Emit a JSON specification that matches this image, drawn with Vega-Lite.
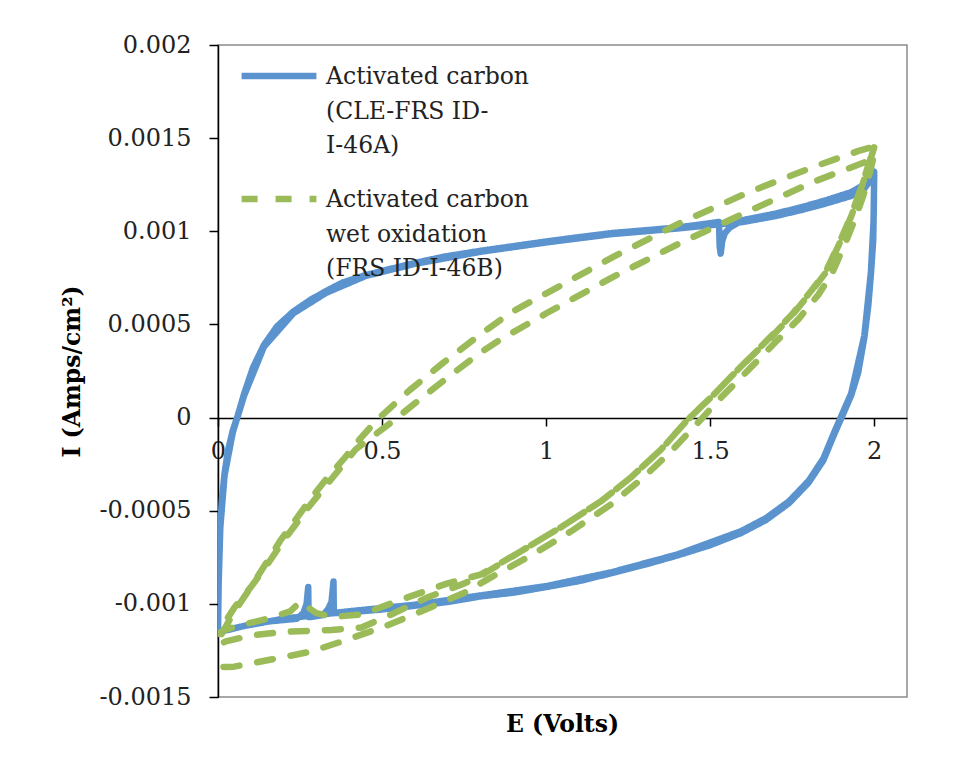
{
  "$schema": "https://vega.github.io/schema/vega-lite/v6.json",
  "width": 689,
  "height": 652,
  "autosize": {"type": "none"},
  "padding": {"left": 218, "top": 45, "right": 58, "bottom": 76},
  "background": "white",
  "config": {
    "view": {"stroke": "#8c8c8c", "strokeWidth": 1.5},
    "font": "DejaVu Serif",
    "style": {"guide-label": {"lineHeight": 34.5}}
  },
  "title": {"text": "E (Volts)", "orient": "bottom", "anchor": "middle", "fontSize": 23.5, "fontWeight": "bold", "font": "DejaVu Serif", "color": "black", "offset": 4},
  "data": {"values": [
    {"s":"A","k":1,"E":0,"I":-0.00115},
    {"s":"A","k":2,"E":0.001,"I":-0.001},
    {"s":"A","k":3,"E":0.002,"I":-0.00088},
    {"s":"A","k":4,"E":0.004,"I":-0.00072},
    {"s":"A","k":5,"E":0.007,"I":-0.00058},
    {"s":"A","k":6,"E":0.012,"I":-0.00044},
    {"s":"A","k":7,"E":0.02,"I":-0.0003},
    {"s":"A","k":8,"E":0.03,"I":-0.00018},
    {"s":"A","k":9,"E":0.045,"I":-0.00007},
    {"s":"A","k":10,"E":0.06,"I":0.00001},
    {"s":"A","k":11,"E":0.08,"I":0.00013},
    {"s":"A","k":12,"E":0.107,"I":0.00027},
    {"s":"A","k":13,"E":0.14,"I":0.00039},
    {"s":"A","k":14,"E":0.18,"I":0.00049},
    {"s":"A","k":15,"E":0.23,"I":0.00057},
    {"s":"A","k":16,"E":0.28,"I":0.00063},
    {"s":"A","k":17,"E":0.33,"I":0.00068},
    {"s":"A","k":18,"E":0.38,"I":0.000725},
    {"s":"A","k":19,"E":0.45,"I":0.000765},
    {"s":"A","k":20,"E":0.53,"I":0.0008},
    {"s":"A","k":21,"E":0.6,"I":0.00083},
    {"s":"A","k":22,"E":0.69,"I":0.000864},
    {"s":"A","k":23,"E":0.8,"I":0.000895},
    {"s":"A","k":24,"E":0.9,"I":0.00092},
    {"s":"A","k":25,"E":1.0,"I":0.000945},
    {"s":"A","k":26,"E":1.1,"I":0.000968},
    {"s":"A","k":27,"E":1.2,"I":0.00099},
    {"s":"A","k":28,"E":1.3,"I":0.001005},
    {"s":"A","k":29,"E":1.4,"I":0.00102},
    {"s":"A","k":30,"E":1.47,"I":0.001036},
    {"s":"A","k":31,"E":1.527,"I":0.00105},
    {"s":"A","k":32,"E":1.529,"I":0.00092},
    {"s":"A","k":33,"E":1.532,"I":0.00088},
    {"s":"A","k":34,"E":1.537,"I":0.00095},
    {"s":"A","k":35,"E":1.545,"I":0.00099},
    {"s":"A","k":36,"E":1.56,"I":0.00102},
    {"s":"A","k":37,"E":1.6,"I":0.00106},
    {"s":"A","k":38,"E":1.7,"I":0.001095},
    {"s":"A","k":39,"E":1.78,"I":0.00113},
    {"s":"A","k":40,"E":1.85,"I":0.001165},
    {"s":"A","k":41,"E":1.93,"I":0.00121},
    {"s":"A","k":42,"E":1.97,"I":0.00125},
    {"s":"A","k":43,"E":2.0,"I":0.00132},
    {"s":"A","k":44,"E":1.999,"I":0.00115},
    {"s":"A","k":45,"E":1.997,"I":0.00095},
    {"s":"A","k":46,"E":1.99,"I":0.00077},
    {"s":"A","k":47,"E":1.982,"I":0.0006},
    {"s":"A","k":48,"E":1.97,"I":0.00043},
    {"s":"A","k":49,"E":1.951,"I":0.00024},
    {"s":"A","k":50,"E":1.93,"I":0.00012},
    {"s":"A","k":51,"E":1.908,"I":0.00003},
    {"s":"A","k":52,"E":1.878,"I":-0.00009},
    {"s":"A","k":53,"E":1.845,"I":-0.00023},
    {"s":"A","k":54,"E":1.8,"I":-0.00035},
    {"s":"A","k":55,"E":1.74,"I":-0.00046},
    {"s":"A","k":56,"E":1.67,"I":-0.00055},
    {"s":"A","k":57,"E":1.594,"I":-0.00062},
    {"s":"A","k":58,"E":1.5,"I":-0.000685},
    {"s":"A","k":59,"E":1.4,"I":-0.00074},
    {"s":"A","k":60,"E":1.3,"I":-0.00079},
    {"s":"A","k":61,"E":1.2,"I":-0.000835},
    {"s":"A","k":62,"E":1.1,"I":-0.000878},
    {"s":"A","k":63,"E":1.0,"I":-0.00091},
    {"s":"A","k":64,"E":0.9,"I":-0.00094},
    {"s":"A","k":65,"E":0.8,"I":-0.00096},
    {"s":"A","k":66,"E":0.7,"I":-0.00099},
    {"s":"A","k":67,"E":0.6,"I":-0.00101},
    {"s":"A","k":68,"E":0.5,"I":-0.00103},
    {"s":"A","k":69,"E":0.4,"I":-0.001045},
    {"s":"A","k":70,"E":0.353,"I":-0.00105},
    {"s":"A","k":71,"E":0.352,"I":-0.00088},
    {"s":"A","k":72,"E":0.346,"I":-0.00099},
    {"s":"A","k":73,"E":0.335,"I":-0.00103},
    {"s":"A","k":74,"E":0.32,"I":-0.00106},
    {"s":"A","k":75,"E":0.285,"I":-0.00107},
    {"s":"A","k":76,"E":0.276,"I":-0.00107},
    {"s":"A","k":77,"E":0.275,"I":-0.00091},
    {"s":"A","k":78,"E":0.27,"I":-0.001},
    {"s":"A","k":79,"E":0.26,"I":-0.00105},
    {"s":"A","k":80,"E":0.24,"I":-0.00108},
    {"s":"A","k":81,"E":0.18,"I":-0.00109},
    {"s":"A","k":82,"E":0.12,"I":-0.0011},
    {"s":"A","k":83,"E":0.076,"I":-0.00112},
    {"s":"A","k":84,"E":0.03,"I":-0.00114},
    {"s":"A","k":85,"E":0,"I":-0.00115},
    {"s":"A","k":86,"E":0.002,"I":-0.00089},
    {"s":"A","k":87,"E":0.007,"I":-0.00059},
    {"s":"A","k":88,"E":0.02,"I":-0.00031},
    {"s":"A","k":89,"E":0.045,"I":-0.00008},
    {"s":"A","k":90,"E":0.08,"I":0.00012},
    {"s":"A","k":91,"E":0.14,"I":0.00038},
    {"s":"A","k":92,"E":0.23,"I":0.00056},
    {"s":"A","k":93,"E":0.33,"I":0.00067},
    {"s":"A","k":94,"E":0.45,"I":0.00076},
    {"s":"A","k":95,"E":0.6,"I":0.000825},
    {"s":"A","k":96,"E":0.8,"I":0.00089},
    {"s":"A","k":97,"E":1.0,"I":0.00094},
    {"s":"A","k":98,"E":1.2,"I":0.000985},
    {"s":"A","k":99,"E":1.4,"I":0.001015},
    {"s":"A","k":100,"E":1.6,"I":0.00105},
    {"s":"A","k":101,"E":1.7,"I":0.001082},
    {"s":"A","k":102,"E":1.78,"I":0.001115},
    {"s":"A","k":103,"E":1.85,"I":0.001148},
    {"s":"A","k":104,"E":1.93,"I":0.00119},
    {"s":"A","k":105,"E":1.97,"I":0.00123},
    {"s":"A","k":106,"E":2.0,"I":0.0013},
    {"s":"A","k":107,"E":1.998,"I":0.00105},
    {"s":"A","k":108,"E":1.99,"I":0.00078},
    {"s":"A","k":109,"E":1.97,"I":0.00044},
    {"s":"A","k":110,"E":1.93,"I":0.00013},
    {"s":"A","k":111,"E":1.878,"I":-0.00008},
    {"s":"A","k":112,"E":1.845,"I":-0.00022},
    {"s":"A","k":113,"E":1.8,"I":-0.00034},
    {"s":"A","k":114,"E":1.74,"I":-0.00045},
    {"s":"A","k":115,"E":1.67,"I":-0.00054},
    {"s":"A","k":116,"E":1.594,"I":-0.00061},
    {"s":"A","k":117,"E":1.4,"I":-0.000735},
    {"s":"A","k":118,"E":1.2,"I":-0.00083},
    {"s":"A","k":119,"E":1.0,"I":-0.000905},
    {"s":"A","k":120,"E":0.8,"I":-0.000955},
    {"s":"A","k":121,"E":0.6,"I":-0.001005},
    {"s":"A","k":122,"E":0.4,"I":-0.00104},
    {"s":"A","k":123,"E":0.2,"I":-0.00108},
    {"s":"A","k":124,"E":0.076,"I":-0.00112},
    {"s":"A","k":125,"E":0,"I":-0.00115},

    {"s":"B","k":1,"E":2.0,"I":0.00145},
    {"s":"B","k":2,"E":1.966,"I":0.00126},
    {"s":"B","k":3,"E":1.93,"I":0.00108},
    {"s":"B","k":4,"E":1.893,"I":0.00093},
    {"s":"B","k":5,"E":1.853,"I":0.00078},
    {"s":"B","k":6,"E":1.81,"I":0.00068},
    {"s":"B","k":7,"E":1.75,"I":0.00055},
    {"s":"B","k":8,"E":1.685,"I":0.00043},
    {"s":"B","k":9,"E":1.594,"I":0.000274},
    {"s":"B","k":10,"E":1.511,"I":0.000123},
    {"s":"B","k":11,"E":1.432,"I":-0.00001},
    {"s":"B","k":12,"E":1.35,"I":-0.000172},
    {"s":"B","k":13,"E":1.258,"I":-0.000322},
    {"s":"B","k":14,"E":1.166,"I":-0.000451},
    {"s":"B","k":15,"E":1.044,"I":-0.00059},
    {"s":"B","k":16,"E":0.922,"I":-0.000719},
    {"s":"B","k":17,"E":0.8,"I":-0.00085},
    {"s":"B","k":18,"E":0.751,"I":-0.00089},
    {"s":"B","k":19,"E":0.638,"I":-0.000966},
    {"s":"B","k":20,"E":0.528,"I":-0.001057},
    {"s":"B","k":21,"E":0.437,"I":-0.001127},
    {"s":"B","k":22,"E":0.345,"I":-0.00114},
    {"s":"B","k":23,"E":0.2,"I":-0.00115},
    {"s":"B","k":24,"E":0.1,"I":-0.00117},
    {"s":"B","k":25,"E":0.027,"I":-0.0012},
    {"s":"B","k":26,"E":0,"I":-0.00122},
    {"s":"B","k":27,"E":0.005,"I":-0.00118},
    {"s":"B","k":28,"E":0.018,"I":-0.00114},
    {"s":"B","k":29,"E":0.05,"I":-0.00104},
    {"s":"B","k":30,"E":0.089,"I":-0.00094},
    {"s":"B","k":31,"E":0.14,"I":-0.0008},
    {"s":"B","k":32,"E":0.192,"I":-0.000655},
    {"s":"B","k":33,"E":0.24,"I":-0.00054},
    {"s":"B","k":34,"E":0.281,"I":-0.00044},
    {"s":"B","k":35,"E":0.33,"I":-0.00033},
    {"s":"B","k":36,"E":0.382,"I":-0.000225},
    {"s":"B","k":37,"E":0.43,"I":-0.00012},
    {"s":"B","k":38,"E":0.486,"I":-0.00001},
    {"s":"B","k":39,"E":0.586,"I":0.00015},
    {"s":"B","k":40,"E":0.687,"I":0.000295},
    {"s":"B","k":41,"E":0.791,"I":0.000435},
    {"s":"B","k":42,"E":0.892,"I":0.000564},
    {"s":"B","k":43,"E":1.005,"I":0.000671},
    {"s":"B","k":44,"E":1.206,"I":0.000864},
    {"s":"B","k":45,"E":1.411,"I":0.001047},
    {"s":"B","k":46,"E":1.615,"I":0.001208},
    {"s":"B","k":47,"E":1.817,"I":0.001347},
    {"s":"B","k":48,"E":1.95,"I":0.00143},
    {"s":"B","k":49,"E":2.0,"I":0.001455},
    {"s":"B","k":50,"E":1.966,"I":0.001265},
    {"s":"B","k":51,"E":1.93,"I":0.001085},
    {"s":"B","k":52,"E":1.893,"I":0.000935},
    {"s":"B","k":53,"E":1.853,"I":0.000785},
    {"s":"B","k":54,"E":1.81,"I":0.000685},
    {"s":"B","k":55,"E":1.75,"I":0.000555},
    {"s":"B","k":56,"E":1.685,"I":0.000435},
    {"s":"B","k":57,"E":1.594,"I":0.000274},
    {"s":"B","k":58,"E":1.511,"I":0.000123},
    {"s":"B","k":59,"E":1.432,"I":-0.000011},
    {"s":"B","k":60,"E":1.35,"I":-0.000172},
    {"s":"B","k":61,"E":1.258,"I":-0.000322},
    {"s":"B","k":62,"E":1.166,"I":-0.000451},
    {"s":"B","k":63,"E":1.044,"I":-0.00059},
    {"s":"B","k":64,"E":0.922,"I":-0.000719},
    {"s":"B","k":65,"E":0.8,"I":-0.000843},
    {"s":"B","k":66,"E":0.7,"I":-0.00089},
    {"s":"B","k":67,"E":0.559,"I":-0.000977},
    {"s":"B","k":68,"E":0.437,"I":-0.001057},
    {"s":"B","k":69,"E":0.35,"I":-0.00107},
    {"s":"B","k":70,"E":0.3,"I":-0.00105},
    {"s":"B","k":71,"E":0.25,"I":-0.00099},
    {"s":"B","k":72,"E":0.22,"I":-0.00104},
    {"s":"B","k":73,"E":0.15,"I":-0.00108},
    {"s":"B","k":74,"E":0.08,"I":-0.00111},
    {"s":"B","k":75,"E":0.02,"I":-0.00114},
    {"s":"B","k":76,"E":0,"I":-0.00116},
    {"s":"B","k":77,"E":0.01,"I":-0.00113},
    {"s":"B","k":78,"E":0.05,"I":-0.00102},
    {"s":"B","k":79,"E":0.1,"I":-0.00091},
    {"s":"B","k":80,"E":0.15,"I":-0.00079},
    {"s":"B","k":81,"E":0.2,"I":-0.00066},
    {"s":"B","k":82,"E":0.281,"I":-0.00047},
    {"s":"B","k":83,"E":0.35,"I":-0.00032},
    {"s":"B","k":84,"E":0.42,"I":-0.00017},
    {"s":"B","k":85,"E":0.525,"I":-0.00003},
    {"s":"B","k":86,"E":0.626,"I":0.000113},
    {"s":"B","k":87,"E":0.718,"I":0.00024},
    {"s":"B","k":88,"E":0.8,"I":0.000349},
    {"s":"B","k":89,"E":0.861,"I":0.000419},
    {"s":"B","k":90,"E":1.005,"I":0.000564},
    {"s":"B","k":91,"E":1.206,"I":0.000757},
    {"s":"B","k":92,"E":1.411,"I":0.000939},
    {"s":"B","k":93,"E":1.615,"I":0.001106},
    {"s":"B","k":94,"E":1.817,"I":0.001267},
    {"s":"B","k":95,"E":1.969,"I":0.001369},
    {"s":"B","k":96,"E":2.0,"I":0.00141},
    {"s":"B","k":97,"E":1.976,"I":0.00124},
    {"s":"B","k":98,"E":1.945,"I":0.00108},
    {"s":"B","k":99,"E":1.908,"I":0.00092},
    {"s":"B","k":100,"E":1.869,"I":0.000765},
    {"s":"B","k":101,"E":1.83,"I":0.00066},
    {"s":"B","k":102,"E":1.77,"I":0.00053},
    {"s":"B","k":103,"E":1.701,"I":0.000408},
    {"s":"B","k":104,"E":1.609,"I":0.000242},
    {"s":"B","k":105,"E":1.533,"I":0.000107},
    {"s":"B","k":106,"E":1.472,"I":-0.00001},
    {"s":"B","k":107,"E":1.38,"I":-0.000183},
    {"s":"B","k":108,"E":1.289,"I":-0.000333},
    {"s":"B","k":109,"E":1.197,"I":-0.000467},
    {"s":"B","k":110,"E":1.075,"I":-0.000612},
    {"s":"B","k":111,"E":0.953,"I":-0.000741},
    {"s":"B","k":112,"E":0.831,"I":-0.000859},
    {"s":"B","k":113,"E":0.751,"I":-0.00094},
    {"s":"B","k":114,"E":0.62,"I":-0.00104},
    {"s":"B","k":115,"E":0.507,"I":-0.001122},
    {"s":"B","k":116,"E":0.394,"I":-0.001192},
    {"s":"B","k":117,"E":0.284,"I":-0.001256},
    {"s":"B","k":118,"E":0.162,"I":-0.001299},
    {"s":"B","k":119,"E":0.049,"I":-0.001337},
    {"s":"B","k":120,"E":0,"I":-0.00134}
  ]},
  "mark": {"type": "line", "strokeWidth": 6.5, "strokeCap": "round", "strokeJoin": "round", "clip": true},
  "encoding": {
    "x": {
      "field": "E", "type": "quantitative",
      "scale": {"domain": [0, 2.1], "nice": false, "zero": false},
      "axis": {
        "values": [0, 0.5, 1, 1.5, 2], "offset": -279, "title": null, "grid": false,
        "domainColor": "black", "domainWidth": 1.5, "tickColor": "black", "tickWidth": 1.5, "tickSize": 8,
        "labelFontSize": 24, "labelFont": "DejaVu Serif", "labelColor": "#222", "labelPadding": 13,
        "labelFlush": false, "labelOverlap": false,
        "labelExpr": "format(datum.value, '~g')"
      }
    },
    "y": {
      "field": "I", "type": "quantitative",
      "scale": {"domain": [-0.0015, 0.002], "nice": false, "zero": false},
      "axis": {
        "values": [-0.0015, -0.001, -0.0005, 0, 0.0005, 0.001, 0.0015, 0.002],
        "title": "I (Amps/cm²)", "titleFontSize": 23.5, "titleFontWeight": "bold", "titleFont": "DejaVu Serif", "titleColor": "black", "titlePadding": 14,
        "grid": false, "domainColor": "black", "domainWidth": 1.5, "tickColor": "black", "tickWidth": 1.5, "tickSize": 9,
        "labelFontSize": 24, "labelFont": "DejaVu Serif", "labelColor": "#222", "labelPadding": 18,
        "labelFlush": false, "labelOverlap": false,
        "labelExpr": "datum.value < 0 ? '-' + format(-datum.value, '~g') : format(datum.value, '~g')"
      }
    },
    "color": {
      "field": "s", "type": "nominal",
      "scale": {"domain": ["A", "B"], "range": ["#5B93CF", "#9BBB59"]},
      "legend": {
        "orient": "none", "legendX": 20, "legendY": -10, "title": null,
        "symbolType": "stroke", "symbolSize": 5600, "symbolStrokeWidth": 6.5,
        "labelFontSize": 23.5, "labelFont": "DejaVu Serif", "labelColor": "#222", "labelLimit": 500,
        "labelOffset": 6, "rowPadding": -10, "labelBaseline": "alphabetic",
        "encode": {"labels": {"update": {"dy": {"value": 8}}}},
        "labelExpr": "datum.label == 'A' ? ['Activated carbon', '(CLE-FRS ID-', 'I-46A)'] : ['Activated carbon', 'wet oxidation', '(FRS ID-I-46B)']"
      }
    },
    "strokeDash": {
      "field": "s", "type": "nominal",
      "scale": {"domain": ["A", "B"], "range": [[1, 0], [16, 18]]},
      "legend": null
    },
    "order": {"field": "k", "type": "quantitative"}
  }
}
